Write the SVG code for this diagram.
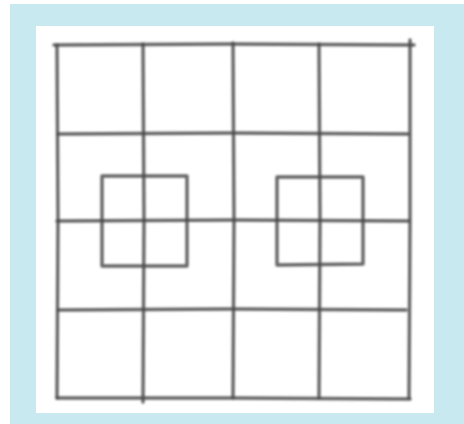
<svg xmlns="http://www.w3.org/2000/svg" width="464" height="424" viewBox="0 0 464 424">
<defs>
<style>
.p{fill:none;stroke:#4a4a4a;stroke-width:3.4;stroke-linecap:round;stroke-linejoin:round;opacity:0.85}
</style>
<filter id="soft" x="-5%" y="-5%" width="110%" height="110%"><feGaussianBlur stdDeviation="0.8"/></filter>
</defs>
<rect x="0" y="0" width="464" height="424" fill="#ffffff"/>
<rect x="10" y="4" width="454" height="420" fill="#c9e9f0"/>
<rect x="36" y="26" width="398" height="387" fill="#ffffff"/>
<g filter="url(#soft)">
<g id="grid">
<path class="p" d="M54,45 L230,44 L414,45"/>
<path class="p" d="M58,134 L233,133 L408,134"/>
<path class="p" d="M57,221 L235,220 L409,221"/>
<path class="p" d="M58,310 L233,309 L406,310"/>
<path class="p" d="M57,398 L233,398 L410,399"/>
<path class="p" d="M57,45 L58,220 L57,398"/>
<path class="p" d="M143,44 L144,220 L143,402"/>
<path class="p" d="M233,43 L234,220 L233,398"/>
<path class="p" d="M319,44 L320,220 L319,398"/>
<path class="p" d="M410,40 L410,220 L409,398"/>
</g>
<g id="square-left">
<path class="p" d="M102,176 L187,176 L187,266 L102,266 Z"/>
</g>
<g id="square-right">
<path class="p" d="M277,177 L363,177 L363,264 L277,265 Z"/>
</g>
</g>
</svg>
